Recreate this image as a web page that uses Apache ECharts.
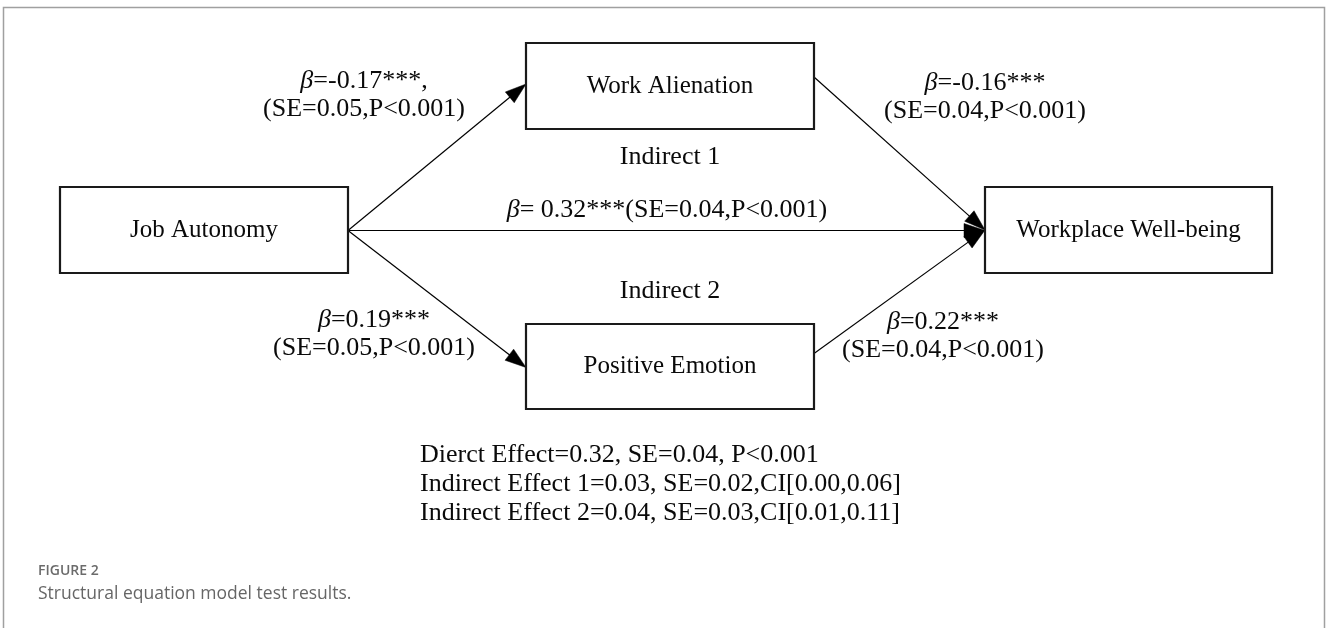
<!DOCTYPE html>
<html><head><meta charset="utf-8">
<script src="https://cdn.jsdelivr.net/npm/echarts@6/dist/echarts.min.js"></script>
<style>html,body{margin:0;padding:0;background:#fff}#c{width:1328px;height:628px}</style>
</head><body><div id="c"></div>
<script>
// ---------------- data ----------------
const nodeNames = ['Job Autonomy', 'Work Alienation', 'Positive Emotion', 'Workplace Well-being'];
const pathSource = ['Job Autonomy', 'Job Autonomy', 'Job Autonomy', 'Work Alienation', 'Positive Emotion'];
const pathTarget = ['Work Alienation', 'Workplace Well-being', 'Positive Emotion', 'Workplace Well-being', 'Workplace Well-being'];
const pathBeta = ['-0.17', '0.32', '0.19', '-0.16', '0.22'];
const pathStars = ['***', '***', '***', '***', '***'];
const pathSE = ['0.05', '0.04', '0.05', '0.04', '0.04'];
const pathP = ['<0.001', '<0.001', '<0.001', '<0.001', '<0.001'];
const indirectLabels = ['Indirect 1', 'Indirect 2'];
const effectNames = ['Dierct Effect', 'Indirect Effect 1', 'Indirect Effect 2'];
const effectValues = ['0.32', '0.03', '0.04'];
const effectSE = ['0.04', '0.02', '0.03'];
const effectTail = [', P<0.001', ',CI[0.00,0.06]', ',CI[0.01,0.11]'];
const captionLabel = 'FIGURE 2';
const captionText = 'Structural equation model test results.';

// ---------------- layout (positions / sizes / styles) ----------------
const W = 1328, H = 628;
const SERIF = '"Liberation Serif", "Times New Roman", serif';
const INK = '#0a0a0a';
const boxLayout = {
  'Job Autonomy':         { cx: 204,   cy: 230,   w: 288, h: 86 },
  'Work Alienation':      { cx: 670,   cy: 86,    w: 288, h: 86 },
  'Positive Emotion':     { cx: 670,   cy: 366.5, w: 288, h: 85 },
  'Workplace Well-being': { cx: 1128.5, cy: 230,  w: 287, h: 86 }
};
const pathLayout = [
  { sdy: 0.5, tdy: -2,  lx: 364, ly: 95,  join: ',\n', pre: '' },
  { sdy: 0.5, tdy: 0.5, lx: 667, ly: 210, join: '',    pre: ' ' },
  { sdy: 0.5, tdy: 1,   lx: 374, ly: 334, join: '\n',  pre: '' },
  { sdy: -9,  tdy: 0,   lx: 985, ly: 97,  join: '\n',  pre: '' },
  { sdy: -13, tdy: 0,   lx: 943, ly: 336, join: '\n',  pre: '' }
];
const indirectLayout = [{ x: 670, y: 157 }, { x: 670, y: 291 }];
const effectLayout = { x: 420, y0: 455, dy: 29 };
const headLen = 21, headHalf = 7;

// ---------------- build ----------------
const boxData = nodeNames.map(n => [boxLayout[n].cx, boxLayout[n].cy, boxLayout[n].w, boxLayout[n].h, n]);

const edgeData = pathSource.map((s, i) => {
  const a = boxLayout[s], b = boxLayout[pathTarget[i]], L = pathLayout[i];
  return [a.cx + a.w / 2, a.cy + L.sdy, b.cx - b.w / 2, b.cy + L.tdy];
});

const pathLabelData = pathSource.map((s, i) => {
  const L = pathLayout[i];
  const txt = '{i|β}{n|=' + L.pre + pathBeta[i] + pathStars[i] + L.join.replace('\n', '') + '}' +
    (L.join.indexOf('\n') >= 0 ? '\n' : '') +
    '{n|(SE=' + pathSE[i] + ',P' + pathP[i] + ')}';
  return { value: [L.lx, L.ly], label: { formatter: txt } };
});

const indirectData = indirectLabels.map((t, i) => ({ value: [indirectLayout[i].x, indirectLayout[i].y], label: { formatter: t } }));

const effectData = effectNames.map((n, i) => ({
  value: [effectLayout.x, effectLayout.y0 + i * effectLayout.dy],
  label: { formatter: n + '=' + effectValues[i] + ', SE=' + effectSE[i] + effectTail[i] }
}));

const chart = echarts.init(document.getElementById('c'), null, { renderer: 'canvas' });
const rich = {
  i: { fontFamily: SERIF, fontSize: 26, fontStyle: 'italic', color: INK, lineHeight: 28, textBorderWidth: 0 },
  n: { fontFamily: SERIF, fontSize: 26, color: INK, lineHeight: 28, textBorderWidth: 0 }
};
const labelBase = { show: true, position: 'inside', verticalAlign: 'middle', fontFamily: SERIF, fontSize: 26,
  color: INK, textBorderWidth: 0, textBorderColor: 'transparent', opacity: 1 };
const hiddenItem = { color: 'transparent', opacity: 1 };

chart.setOption({
  backgroundColor: '#fff',
  animation: false,
  title: {
    left: 33, top: 559, itemGap: 7,
    text: captionLabel,
    textStyle: { fontFamily: '"Open Sans", sans-serif', fontSize: 14, fontWeight: 600, color: '#6b6b6b' },
    subtext: captionText,
    subtextStyle: { fontFamily: '"Open Sans", sans-serif', fontSize: 17.5, fontWeight: 400, color: '#666666' }
  },
  graphic: [
    { type: 'polyline', silent: true, z: 100, shape: { points: [[3.5, 700], [3.5, 7.5], [1324.5, 7.5], [1324.5, 700]] },
      style: { stroke: '#a0a0a0', lineWidth: 1.5, fill: null } }
  ],
  grid: { left: 0, right: 0, top: 0, bottom: 0 },
  xAxis: { type: 'value', min: 0, max: W, show: false },
  yAxis: { type: 'value', min: 0, max: H, inverse: true, show: false },
  series: [
    {
      type: 'custom', name: 'paths', data: edgeData, silent: true, z: 2,
      renderItem: function (params, api) {
        const p1 = api.coord([api.value(0), api.value(1)]);
        const p2 = api.coord([api.value(2), api.value(3)]);
        const dx = p2[0] - p1[0], dy = p2[1] - p1[1];
        const len = Math.sqrt(dx * dx + dy * dy), ux = dx / len, uy = dy / len;
        const bx = p2[0] - ux * headLen, by = p2[1] - uy * headLen;
        return {
          type: 'group',
          children: [
            { type: 'line', shape: { x1: p1[0], y1: p1[1], x2: bx + ux * 2, y2: by + uy * 2 },
              style: { stroke: '#000', lineWidth: 1.2 } },
            { type: 'polygon', shape: { points: [[p2[0], p2[1]], [bx - uy * headHalf, by + ux * headHalf], [bx + uy * headHalf, by - ux * headHalf]] },
              style: { fill: '#000', stroke: '#000', lineWidth: 0.5 } }
          ]
        };
      }
    },
    {
      type: 'custom', name: 'variables', data: boxData, silent: true, z: 3,
      renderItem: function (params, api) {
        const c = api.coord([api.value(0), api.value(1)]);
        const w = api.value(2), h = api.value(3);
        const name = nodeNames[params.dataIndex];
        return {
          type: 'group',
          children: [
            { type: 'rect', shape: { x: c[0] - w / 2, y: c[1] - h / 2, width: w, height: h },
              style: { fill: '#fff', stroke: '#1a1a1a', lineWidth: 2.2 } },
            { type: 'text', style: { text: name, x: c[0], y: c[1], align: 'center', verticalAlign: 'middle',
              fontFamily: SERIF, fontSize: 25, fill: INK } }
          ]
        };
      }
    },
    {
      type: 'scatter', name: 'coefficients', data: pathLabelData, symbolSize: 1, silent: true, z: 4,
      itemStyle: hiddenItem,
      label: Object.assign({ align: 'center', rich: rich }, labelBase)
    },
    {
      type: 'scatter', name: 'indirect', data: indirectData, symbolSize: 1, silent: true, z: 4,
      itemStyle: hiddenItem,
      label: Object.assign({ align: 'center' }, labelBase)
    },
    {
      type: 'scatter', name: 'effects', data: effectData, symbolSize: 1, silent: true, z: 4,
      itemStyle: hiddenItem,
      label: Object.assign({ align: 'left' }, labelBase)
    }
  ]
});
</script>
</body></html>
